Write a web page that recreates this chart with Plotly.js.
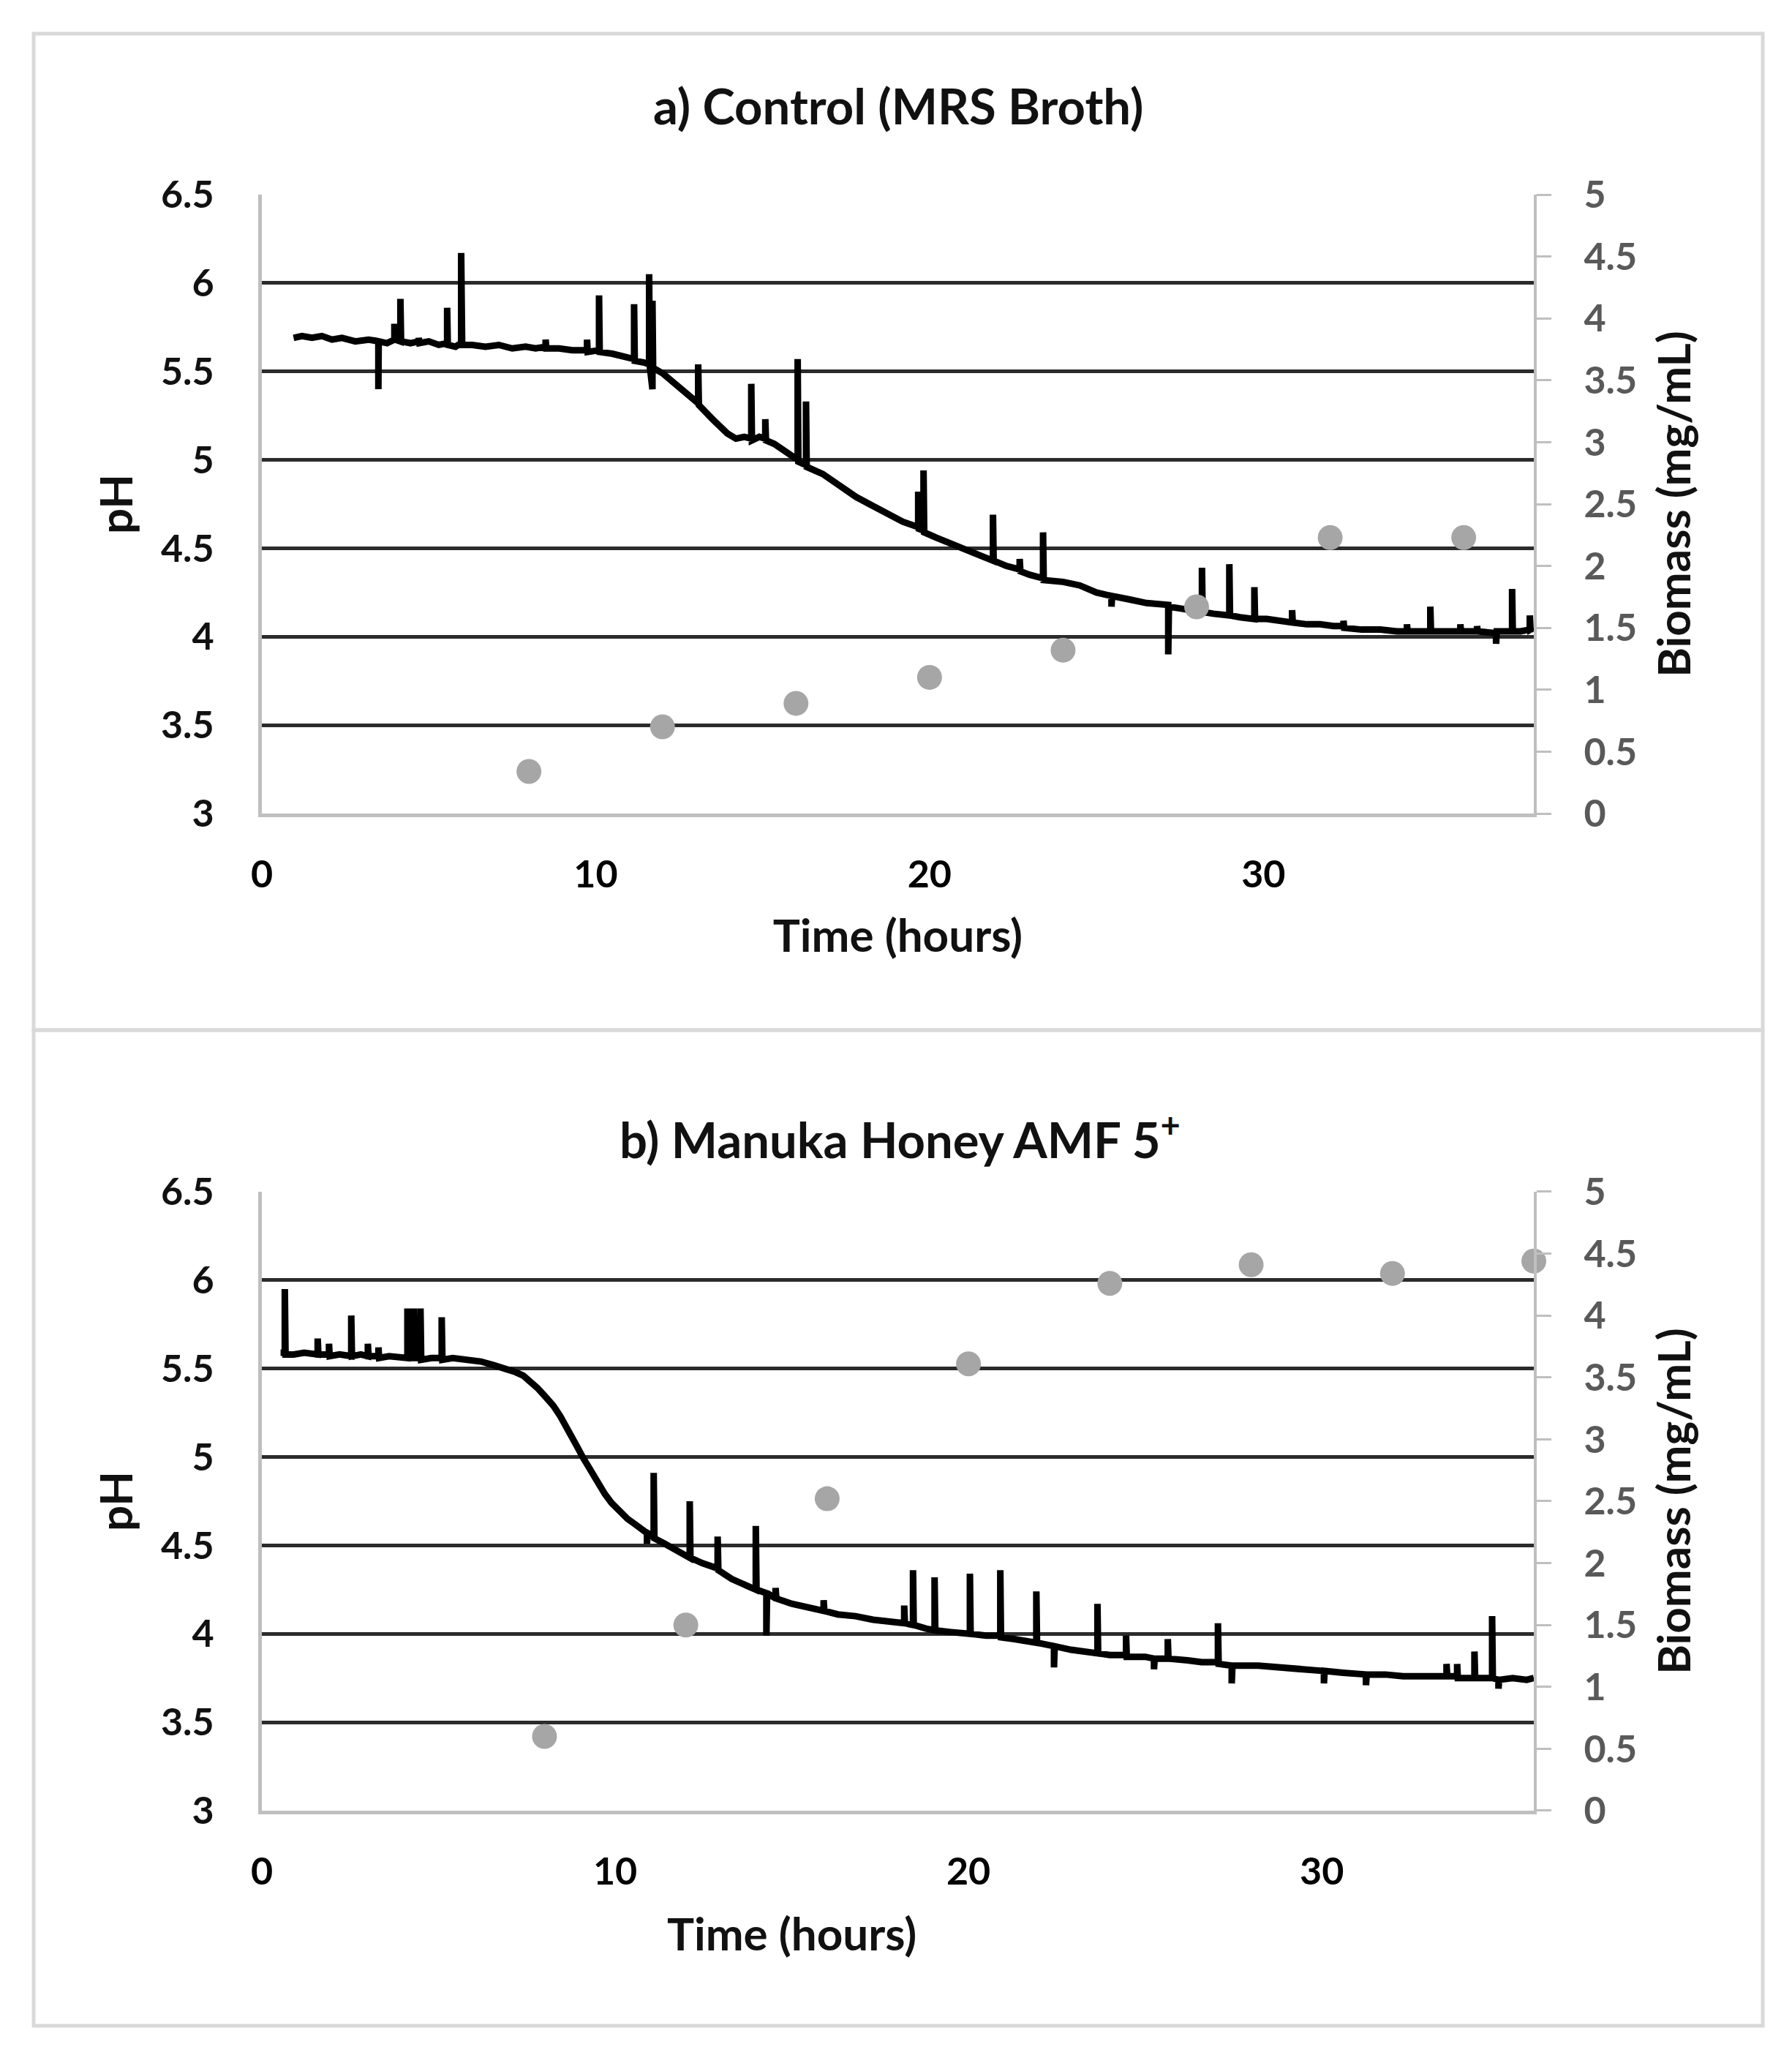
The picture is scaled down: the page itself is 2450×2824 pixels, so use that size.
<!DOCTYPE html>
<html>
<head>
<meta charset="utf-8">
<script src="https://cdn.plot.ly/plotly-3.0.1.min.js"></script>
<style>
  html, body { margin:0; padding:0; background:#fff; }
  #chart { width:2450px; height:2824px; }
</style>
</head>
<body>
<div id="chart"></div>
<script>
// ── pH and biomass over time, two cultures ─────────────────────────────────

// a) Control (MRS Broth): pH probe trace (hours, pH)
const timeA = [
  0.95,1.2,1.5,1.8,2.1,2.4,2.8,3.2,3.49,3.49,
  3.5,3.75,3.97,3.97,4.0,4.15,4.15,4.17,4.45,4.7,
  4.7,4.72,5.0,5.3,5.55,5.55,5.57,5.8,5.97,5.97,
  6.0,6.3,6.7,7.1,7.5,7.9,8.2,8.5,8.5,8.52,
  8.9,9.3,9.74,9.74,9.76,10.1,10.1,10.12,10.5,10.8,
  11.15,11.15,11.17,11.45,11.6,11.6,11.62,11.7,11.7,11.72,
  12.0,12.5,13.0,13.07,13.07,13.09,13.5,13.94,14.2,14.45,
  14.66,14.66,14.68,14.9,15.08,15.08,15.1,15.35,15.6,15.85,
  16.05,16.05,16.07,16.3,16.3,16.32,16.8,17.3,17.8,18.3,
  18.8,19.2,19.66,19.66,19.68,19.82,19.82,19.84,20.2,20.6,
  21.0,21.5,21.9,21.9,21.92,22.3,22.7,22.7,22.72,23.0,
  23.4,23.4,23.42,24.0,24.5,25.0,25.45,25.45,25.47,26.0,
  26.5,27.15,27.15,27.17,27.5,27.8,28.16,28.16,28.18,28.5,
  28.98,28.98,29.0,29.3,29.73,29.73,29.75,30.1,30.4,30.86,
  30.86,30.88,31.3,31.7,32.1,32.4,32.4,32.42,32.94,33.5,
  34.0,34.3,34.3,34.32,34.7,35.0,35.0,35.02,35.5,35.9,
  35.9,35.92,36.4,36.4,36.42,36.97,36.97,36.99,37.2,37.45,
  37.45,37.47,37.7,37.98,37.98,38.0,38.1
];
const phA = [
  5.69,5.70,5.69,5.70,5.68,5.69,5.67,5.68,5.67,5.40,
  5.67,5.66,5.68,5.77,5.68,5.67,5.91,5.67,5.66,5.67,
  5.69,5.66,5.67,5.65,5.66,5.86,5.65,5.64,5.66,6.17,
  5.65,5.65,5.64,5.65,5.63,5.64,5.63,5.64,5.68,5.63,
  5.63,5.62,5.62,5.68,5.61,5.62,5.93,5.61,5.60,5.59,
  5.57,5.88,5.56,5.55,5.54,6.05,5.53,5.40,5.90,5.52,
  5.49,5.41,5.33,5.32,5.54,5.31,5.23,5.15,5.12,5.13,
  5.12,5.43,5.11,5.13,5.12,5.23,5.11,5.09,5.06,5.03,
  5.00,5.57,4.99,4.97,5.33,4.96,4.92,4.85,4.79,4.74,
  4.69,4.65,4.62,4.82,4.61,4.60,4.94,4.59,4.56,4.53,
  4.50,4.46,4.43,4.69,4.43,4.40,4.38,4.44,4.37,4.35,
  4.33,4.59,4.32,4.31,4.29,4.25,4.23,4.17,4.23,4.21,
  4.19,4.18,3.90,4.17,4.16,4.15,4.14,4.39,4.14,4.13,
  4.12,4.41,4.12,4.11,4.10,4.28,4.10,4.10,4.09,4.08,
  4.15,4.08,4.07,4.07,4.06,4.06,4.09,4.05,4.04,4.04,
  4.03,4.03,4.07,4.03,4.03,4.03,4.17,4.03,4.03,4.03,
  4.07,4.03,4.03,4.06,4.03,4.02,3.96,4.03,4.03,4.03,
  4.27,4.03,4.03,4.04,4.12,4.04,4.05
];
const bioTimeA = [8, 12, 16, 20, 24, 28, 32, 36];
const bioA     = [0.34, 0.70, 0.89, 1.10, 1.32, 1.67, 2.23, 2.23];

// b) Manuka Honey AMF 5+
const timeB = [
  0.53,0.65,0.65,0.67,0.9,1.2,1.58,1.58,1.6,1.9,
  1.9,1.92,2.2,2.53,2.53,2.55,2.8,3.0,3.0,3.02,
  3.3,3.3,3.32,3.6,3.9,4.12,4.12,4.14,4.3,4.3,
  4.32,4.49,4.49,4.51,4.8,5.09,5.09,5.11,5.4,5.8,
  6.2,6.55,6.9,7.18,7.4,7.6,7.8,8.03,8.25,8.45,
  8.6,8.76,8.92,9.08,9.25,9.4,9.55,9.71,9.9,10.14,
  10.35,10.56,10.78,10.9,10.9,10.92,11.09,11.09,11.11,11.4,
  11.83,12.11,12.11,12.13,12.46,12.9,12.9,12.92,13.3,13.6,
  13.98,13.98,14.0,14.28,14.28,14.3,14.54,14.54,14.56,15.0,
  15.5,15.9,15.9,15.92,16.3,16.8,17.3,17.8,18.18,18.18,
  18.2,18.43,18.43,18.45,18.8,19.04,19.04,19.06,19.5,20.04,
  20.04,20.06,20.5,20.9,20.9,20.92,21.3,21.92,21.92,21.94,
  22.42,22.42,22.44,22.9,23.3,23.65,23.65,23.67,24.0,24.46,
  24.46,24.48,25.0,25.25,25.25,25.27,25.64,25.64,25.66,26.2,
  26.6,27.06,27.06,27.08,27.45,27.45,27.47,28.2,28.8,29.3,
  29.7,30.06,30.06,30.08,30.6,31.25,31.25,31.27,31.8,32.3,
  32.77,33.2,33.53,33.53,33.55,33.83,33.83,33.85,34.32,34.32,
  34.34,34.82,34.82,34.84,35.0,35.0,35.02,35.4,35.8,36.0
];
const phB = [
  5.59,5.59,5.95,5.58,5.58,5.59,5.58,5.67,5.58,5.58,
  5.64,5.57,5.58,5.57,5.80,5.57,5.58,5.57,5.64,5.57,
  5.57,5.62,5.56,5.57,5.56,5.56,5.84,5.56,5.56,5.84,
  5.56,5.56,5.84,5.55,5.56,5.56,5.79,5.55,5.56,5.55,
  5.54,5.52,5.50,5.48,5.46,5.43,5.39,5.34,5.29,5.23,
  5.18,5.12,5.06,5.00,4.94,4.89,4.84,4.79,4.74,4.69,
  4.65,4.62,4.59,4.57,4.51,4.57,4.55,4.91,4.54,4.51,
  4.46,4.43,4.75,4.43,4.40,4.37,4.55,4.36,4.31,4.28,
  4.25,4.61,4.25,4.23,3.99,4.23,4.20,4.26,4.20,4.17,
  4.15,4.13,4.19,4.13,4.11,4.10,4.08,4.07,4.06,4.16,
  4.06,4.05,4.36,4.05,4.03,4.02,4.32,4.02,4.01,4.00,
  4.34,4.00,3.99,3.99,4.36,3.98,3.97,3.95,4.24,3.95,
  3.93,3.81,3.93,3.91,3.90,3.89,4.17,3.89,3.88,3.88,
  3.99,3.87,3.87,3.86,3.80,3.86,3.86,3.97,3.86,3.85,
  3.84,3.84,4.06,3.83,3.82,3.72,3.82,3.82,3.81,3.80,
  3.79,3.79,3.72,3.79,3.78,3.77,3.71,3.77,3.77,3.76,
  3.76,3.76,3.76,3.83,3.76,3.76,3.83,3.75,3.75,3.90,
  3.75,3.75,4.10,3.75,3.74,3.69,3.74,3.75,3.74,3.75
];
const bioTimeB = [8, 12, 16, 20, 24, 28, 32, 36];
const bioB     = [0.60, 1.50, 2.52, 3.61, 4.26, 4.41, 4.34, 4.44];

const panelTitles = ['a) Control (MRS Broth)', 'b) Manuka Honey AMF 5<sup>+</sup>'];
const xTitle = 'Time (hours)';
const xMax = [38.1, 36];

// ── styles ─────────────────────────────────────────────────────────────────
const FONT = 'Lato, "Open Sans", sans-serif';
const AXLINE = '#bfbfbf';
const tickFont = (c) => ({family:FONT, size:52, color:c, weight:'bold'});
const titleFont = {family:FONT, size:62, color:'#111', weight:'bold'};

function xAxis(anchor, max, title) {
  return {domain:[0,1], anchor, range:[0,max], tick0:0, dtick:10,
    showgrid:false, zeroline:false, showline:true, linecolor:AXLINE, linewidth:5,
    ticks:'', ticklabelstandoff:34, tickfont:tickFont('#000'),
    title:{text:title, font:titleFont, standoff:36}, fixedrange:true};
}
function phAxis(anchor, domain) {
  return {domain, anchor, range:[3,6.5], tick0:3, dtick:0.5,
    showgrid:true, gridcolor:'#2b2b2b', gridwidth:5, zeroline:false,
    showline:true, linecolor:AXLINE, linewidth:5, ticks:'', ticklabelstandoff:50,
    tickfont:tickFont('#111'), title:{text:'pH', font:titleFont, standoff:20}, fixedrange:true};
}
function bioAxis(anchor, over) {
  return {overlaying:over, side:'right', anchor, range:[0,5], tick0:0, dtick:0.5,
    showgrid:false, zeroline:false, showline:true, linecolor:AXLINE, linewidth:4,
    ticks:'outside', ticklen:20, tickwidth:3, tickcolor:AXLINE, ticklabelstandoff:34,
    tickfont:tickFont('#595959'), title:{text:'Biomass (mg/mL)', font:titleFont, standoff:32}, fixedrange:true};
}

const phLine = {color:'#000', width:9};
const bioMarker = {size:34, color:'#a6a6a6'};

const traces = [
  {x:timeA, y:phA, xaxis:'x', yaxis:'y', type:'scatter', mode:'lines', line:phLine, hoverinfo:'skip'},
  {x:bioTimeA, y:bioA, xaxis:'x', yaxis:'y2', type:'scatter', mode:'markers', marker:bioMarker, cliponaxis:false},
  {x:timeB, y:phB, xaxis:'x2', yaxis:'y3', type:'scatter', mode:'lines', line:phLine, hoverinfo:'skip'},
  {x:bioTimeB, y:bioB, xaxis:'x2', yaxis:'y4', type:'scatter', mode:'markers', marker:bioMarker, cliponaxis:false},
];

// plot area: 358..2097 px wide, panel a 266..1112, panel b 1629..2475
const frame = {type:'rect', xref:'paper', yref:'paper', layer:'below', line:{color:'#d9d9d9', width:5}};
const layout = {
  width:2450, height:2824,
  margin:{l:358, r:353, t:266, b:349},
  paper_bgcolor:'#fff', plot_bgcolor:'rgba(0,0,0,0)',
  showlegend:false,
  font:{family:FONT, color:'#111'},
  xaxis:xAxis('y', xMax[0], xTitle),
  yaxis:phAxis('x', [0.61702, 1]),
  yaxis2:bioAxis('x', 'y'),
  xaxis2:xAxis('y3', xMax[1], ''),
  yaxis3:phAxis('x2', [0, 0.38298]),
  yaxis4:bioAxis('x2', 'y3'),
  shapes:[
    Object.assign({x0:-0.1794, x1:1.18, y0:0.48303, y1:1.09959}, frame),
    Object.assign({x0:-0.1794, x1:1.18, y0:-0.13309, y1:0.48303}, frame),
  ],
  annotations:[
    {xref:'paper', yref:'paper', x:0.5, y:1.0552, xanchor:'center', yanchor:'middle', showarrow:false,
     text:panelTitles[0], font:{family:FONT, size:67, color:'#111', weight:'bold'}},
    {xref:'paper', yref:'paper', x:0.502, y:0.41738, xanchor:'center', yanchor:'middle', showarrow:false,
     text:panelTitles[1], font:{family:FONT, size:67, color:'#111', weight:'bold'}},
    // in panel b the x title sits left of centre
    {xref:'paper', yref:'paper', x:0.4169, y:-0.0755, xanchor:'center', yanchor:'middle', showarrow:false,
     text:xTitle, font:titleFont},
  ],
};

Plotly.newPlot('chart', traces, layout, {displayModeBar:false, staticPlot:true});
</script>
</body>
</html>
